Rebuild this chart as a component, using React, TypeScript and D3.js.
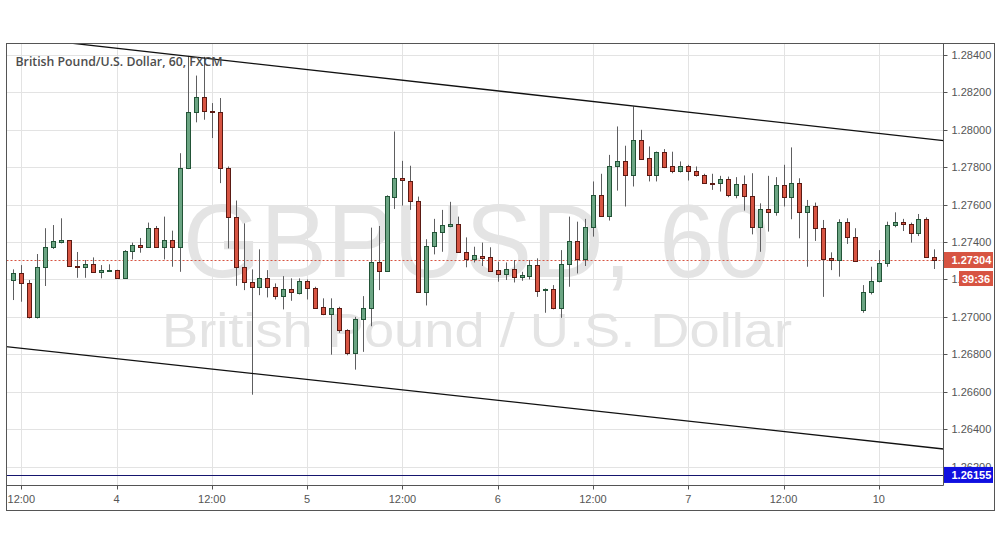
import React from "react";
import * as d3 from "d3";

// ---- data (hourly GBP/USD candles, FXCM) ----
const startIndex = -1; // first bar sits one hour before the "12:00" tick
const opens = [
  1.27197, 1.27232, 1.27179, 1.26997, 1.27265, 1.27372, 1.27402, 1.27409, 1.2727, 1.27268,
  1.27281, 1.27238, 1.27249, 1.2725, 1.27206, 1.27352, 1.27383, 1.27375, 1.27474, 1.27375,
  1.27409, 1.27375, 1.27795, 1.28095, 1.28175, 1.28101, 1.28095, 1.27795, 1.27532, 1.27265,
  1.27184, 1.27161, 1.27206, 1.27161, 1.27113, 1.27147, 1.27129, 1.27191, 1.27157, 1.27054,
  1.27013, 1.2705, 1.26932, 1.26807, 1.26991, 1.2705, 1.27291, 1.27247, 1.27643, 1.27741,
  1.27729, 1.27622, 1.27134, 1.27381, 1.27456, 1.27488, 1.27495, 1.27348, 1.27309, 1.27327,
  1.27318, 1.2725, 1.27227, 1.27254, 1.27215, 1.2722, 1.27277, 1.27145, 1.27147, 1.27045,
  1.27281, 1.27406, 1.27309, 1.27479, 1.27652, 1.27541, 1.27804, 1.27834, 1.27756, 1.27947,
  1.27849, 1.27756, 1.27881, 1.27804, 1.27782, 1.27807, 1.27782, 1.27756, 1.27715, 1.27715,
  1.27736, 1.27649, 1.27709, 1.27647, 1.27482, 1.27575, 1.27559, 1.27706, 1.2764, 1.27715,
  1.27563, 1.27593, 1.27474, 1.27313, 1.27304, 1.27509, 1.27425, 1.27036, 1.27131, 1.27191,
  1.27286, 1.27491, 1.27506, 1.27497, 1.27447, 1.27522, 1.27318,
];
const highs = [
  1.27254, 1.27277, 1.27197, 1.27336, 1.27474, 1.27491, 1.27527, 1.27411, 1.27347, 1.27304,
  1.27318, 1.27277, 1.27281, 1.27252, 1.27357, 1.27397, 1.27422, 1.27504, 1.27486, 1.27536,
  1.27461, 1.27875, 1.28395, 1.2829, 1.2839, 1.28143, 1.2817, 1.27804, 1.27622, 1.275,
  1.27254, 1.27361, 1.2725, 1.27179, 1.27218, 1.27206, 1.27206, 1.272, 1.27161, 1.27099,
  1.27099, 1.27054, 1.26934, 1.27, 1.27111, 1.27477, 1.27486, 1.2765, 1.27991, 1.27834,
  1.27808, 1.27643, 1.27415, 1.27524, 1.27572, 1.27615, 1.27536, 1.27425, 1.27375, 1.27397,
  1.27372, 1.27295, 1.27291, 1.27304, 1.27241, 1.27304, 1.27313, 1.27152, 1.2717, 1.27357,
  1.27536, 1.27509, 1.27524, 1.27724, 1.27765, 1.27866, 1.28018, 1.27915, 1.28125, 1.28,
  1.27911, 1.27884, 1.27897, 1.27883, 1.27831, 1.27813, 1.27804, 1.27765, 1.27765, 1.27754,
  1.2775, 1.27747, 1.27756, 1.27768, 1.27607, 1.27754, 1.27747, 1.27813, 1.27906, 1.27741,
  1.27625, 1.27611, 1.27518, 1.27345, 1.27522, 1.27527, 1.27474, 1.2717, 1.27268, 1.27357,
  1.27509, 1.27559, 1.27524, 1.27504, 1.2755, 1.27532, 1.27361,
];
const lows = [
  1.2709, 1.27081, 1.26991, 1.26991, 1.27165, 1.27363, 1.27393, 1.27268, 1.27209, 1.27209,
  1.27236, 1.27206, 1.27241, 1.27204, 1.27204, 1.27307, 1.27343, 1.27372, 1.27372, 1.27307,
  1.27268, 1.27241, 1.2779, 1.2804, 1.28054, 1.27956, 1.27715, 1.27366, 1.27166, 1.27143,
  1.26584, 1.27116, 1.27104, 1.27093, 1.2704, 1.27086, 1.2712, 1.27093, 1.27043, 1.27009,
  1.26798, 1.26915, 1.26795, 1.26718, 1.26813, 1.2695, 1.27143, 1.27241, 1.27577, 1.27595,
  1.27572, 1.27131, 1.27061, 1.27334, 1.27348, 1.27479, 1.27347, 1.27265, 1.27291, 1.27272,
  1.27243, 1.27188, 1.27197, 1.27184, 1.27193, 1.272, 1.27107, 1.27022, 1.2704, 1.26995,
  1.27161, 1.27232, 1.27272, 1.27429, 1.27539, 1.27515, 1.27675, 1.2759, 1.27697, 1.27843,
  1.27724, 1.27724, 1.27795, 1.27768, 1.27772, 1.27729, 1.2775, 1.27711, 1.27679, 1.2767,
  1.2764, 1.27634, 1.27568, 1.27441, 1.27348, 1.27456, 1.27541, 1.2759, 1.27522, 1.2742,
  1.27268, 1.27406, 1.27107, 1.2725, 1.27215, 1.2739, 1.27295, 1.27022, 1.2712, 1.27184,
  1.27268, 1.27479, 1.27459, 1.27397, 1.27432, 1.27316, 1.27256,
];
const closes = [
  1.27232, 1.27179, 1.26997, 1.27265, 1.27372, 1.27404, 1.27409, 1.2727, 1.27268, 1.27281,
  1.27238, 1.27249, 1.2725, 1.27206, 1.27352, 1.27383, 1.27375, 1.27474, 1.27375, 1.27409,
  1.27375, 1.27795, 1.28095, 1.28175, 1.28099, 1.28097, 1.27795, 1.27532, 1.27265, 1.27184,
  1.27161, 1.27206, 1.27161, 1.27113, 1.27147, 1.27131, 1.27191, 1.27157, 1.2705, 1.27013,
  1.2705, 1.26932, 1.26807, 1.26991, 1.2705, 1.27291, 1.27247, 1.27647, 1.27741, 1.27732,
  1.27622, 1.27134, 1.27381, 1.27456, 1.27491, 1.27497, 1.27348, 1.27307, 1.27329, 1.27316,
  1.27247, 1.27227, 1.27254, 1.27215, 1.27224, 1.27277, 1.2714, 1.2715, 1.27045, 1.27281,
  1.27406, 1.27309, 1.27479, 1.27652, 1.27541, 1.27807, 1.27834, 1.27756, 1.27947, 1.27845,
  1.27756, 1.27881, 1.278, 1.27782, 1.27807, 1.27782, 1.27756, 1.27715, 1.27714, 1.27736,
  1.27649, 1.27709, 1.27647, 1.27482, 1.27575, 1.27559, 1.27706, 1.2764, 1.27715, 1.27563,
  1.27593, 1.27474, 1.27309, 1.27304, 1.27509, 1.27425, 1.27299, 1.27131, 1.27191, 1.27286,
  1.27491, 1.27506, 1.27495, 1.27447, 1.27522, 1.27318, 1.27304,
];

const xTickIndex = [0, 12, 24, 36, 48, 60, 72, 84, 96, 108];
const xTickLabels = ["12:00", "4", "12:00", "5", "12:00", "6", "12:00", "7", "12:00", "10"];
const yTicks = [1.262, 1.264, 1.266, 1.268, 1.27, 1.272, 1.274, 1.276, 1.278, 1.28, 1.282, 1.284];

const upperChannel = [
  { idx: 6.35, price: 1.28463 },
  { idx: 116.1, price: 1.27942 },
];
const lowerChannel = [
  { idx: -1.84, price: 1.26841 },
  { idx: 116.1, price: 1.26294 },
];
const supportLevel = 1.26155;
const lastPrice = 1.27304;
const countdown = "39:36";
const title = "British Pound/U.S. Dollar, 60, FXCM";
const watermark1 = "GBPUSD, 60";
const watermark2 = "British Pound / U.S. Dollar";

// ---- styling ----
const UP = "#6ba583";
const UP_BORDER = "#225437";
const DOWN = "#d75442";
const DOWN_BORDER = "#5b1a13";
const WICK = "#5e5e60";
const AXIS_TXT = "#555555";
const FONT = "'Liberation Sans', Arial, sans-serif";

const W = 1002;
const H = 547;
const plot = { left: 6.5, right: 943.5, top: 43.5, bottom: 485.5 };

export default function App() {
  const x = d3.scaleLinear().domain([0, 108]).range([21.3, 878.8]);
  const y = d3.scaleLinear().domain([1.266, 1.284]).range([391.7, 55]);

  const bars = opens.map((o, k) => ({
    idx: startIndex + k,
    o,
    h: highs[k],
    l: lows[k],
    c: closes[k],
  }));

  const lineFor = (pts: { idx: number; price: number }[]) => {
    const [a, b] = pts;
    const fx = d3.scaleLinear().domain([x(a.idx), x(b.idx)]).range([y(a.price), y(b.price)]);
    return { x1: plot.left - 20, y1: fx(plot.left - 20), x2: plot.right, y2: fx(plot.right) };
  };
  const up = lineFor(upperChannel);
  const lo = lineFor(lowerChannel);

  const fmt = d3.format(".5f");
  const yLast = y(lastPrice);
  const ySup = y(supportLevel);

  return (
    <div style={{ position: "absolute", left: 0, top: 0, width: W, height: H, background: "#fff" }}>
      <svg width={W} height={H} style={{ display: "block" }} fontFamily={FONT}>
        <defs>
          <clipPath id="plotClip">
            <rect x={plot.left} y={plot.top} width={plot.right - plot.left} height={plot.bottom - plot.top} />
          </clipPath>
        </defs>
        <rect x={0} y={0} width={W} height={H} fill="#fff" />

        {/* grid */}
        <g clipPath="url(#plotClip)" stroke="#e3e3e3" strokeWidth={1}>
          {yTicks.map((v) => (
            <line key={"gy" + v} x1={plot.left} x2={plot.right} y1={Math.round(y(v)) + 0.5} y2={Math.round(y(v)) + 0.5} />
          ))}
          {xTickIndex.map((i) => (
            <line key={"gx" + i} x1={Math.round(x(i)) + 0.5} x2={Math.round(x(i)) + 0.5} y1={plot.top} y2={plot.bottom} />
          ))}
        </g>

        {/* watermark */}
        <g fill="#e4e4e4" fontFamily={FONT}>
          <text x={183} y={277} fontSize={104} textLength={587} lengthAdjust="spacingAndGlyphs">
            {watermark1}
          </text>
          <text x={162} y={347} fontSize={48} textLength={630} lengthAdjust="spacingAndGlyphs">
            {watermark2}
          </text>
        </g>

        <g clipPath="url(#plotClip)">
          {/* last price dotted line */}
          <line x1={plot.left} x2={plot.right} y1={Math.round(yLast) + 0.5} y2={Math.round(yLast) + 0.5} stroke={DOWN} strokeDasharray="2,2" strokeWidth={1} />
          {/* support line */}
          <line x1={plot.left} x2={plot.right} y1={Math.round(ySup) + 0.5} y2={Math.round(ySup) + 0.5} stroke="#15156e" strokeWidth={1.2} />

          {/* candles */}
          {bars.map((b) => {
            const cx = Math.round(x(b.idx)) + 0.5;
            const isUp = b.c >= b.o;
            const top = Math.round(y(Math.max(b.o, b.c)));
            const bot = Math.round(y(Math.min(b.o, b.c)));
            const hgt = Math.max(1, bot - top);
            return (
              <g key={b.idx}>
                <line x1={cx} x2={cx} y1={y(b.h)} y2={y(b.l)} stroke={WICK} strokeWidth={1} />
                <rect
                  x={cx - 2}
                  y={top + 0.5}
                  width={4}
                  height={hgt}
                  fill={isUp ? UP : DOWN}
                  stroke={isUp ? UP_BORDER : DOWN_BORDER}
                  strokeWidth={1}
                />
              </g>
            );
          })}

          {/* channel lines */}
          <line {...up} stroke="#111" strokeWidth={1.3} />
          <line {...lo} stroke="#111" strokeWidth={1.3} />
        </g>

        {/* title */}
        <text x={15.5} y={66} fontSize={13} fontWeight={600} fill="#4d4d4d" fontFamily="'Open Sans', 'DejaVu Sans', sans-serif" textLength={207} lengthAdjust="spacingAndGlyphs">
          {title}
        </text>

        {/* axes */}
        <line x1={plot.right} x2={plot.right} y1={plot.top} y2={plot.bottom} stroke="#555" strokeWidth={1} />
        <line x1={plot.left} x2={plot.right} y1={plot.bottom} y2={plot.bottom} stroke="#555" strokeWidth={1} />
        <rect x={6.5} y={43.5} width={988} height={467} fill="none" stroke="#555" strokeWidth={1} />

        {/* y ticks and labels */}
        {yTicks.map((v) => (
          <g key={"yt" + v}>
            <line x1={plot.right} x2={plot.right + 4} y1={Math.round(y(v)) + 0.5} y2={Math.round(y(v)) + 0.5} stroke="#555" />
            <text x={951.5} y={y(v) + 4} fontSize={11} fill={AXIS_TXT}>
              {fmt(v)}
            </text>
          </g>
        ))}

        {/* x ticks and labels */}
        {xTickIndex.map((i, k) => (
          <g key={"xt" + i}>
            <line x1={Math.round(x(i)) + 0.5} x2={Math.round(x(i)) + 0.5} y1={plot.bottom} y2={plot.bottom + 4} stroke="#555" />
            <text x={x(i)} y={503} fontSize={11} fill={AXIS_TXT} textAnchor="middle">
              {xTickLabels[k]}
            </text>
          </g>
        ))}

        {/* last price label */}
        <rect x={944} y={yLast - 8} width={49} height={16} fill={DOWN} />
        <text x={951.5} y={yLast + 4} fontSize={11} fontWeight="bold" fill="#fff">
          {fmt(lastPrice)}
        </text>
        <rect x={959} y={yLast + 11} width={34} height={15} fill={DOWN} />
        <text x={976} y={yLast + 22.5} fontSize={11} fontWeight="bold" fill="#fff" textAnchor="middle">
          {countdown}
        </text>

        {/* support label */}
        <rect x={944} y={ySup - 8} width={49} height={16} fill="#1010e0" />
        <text x={951.5} y={ySup + 4} fontSize={11} fontWeight="bold" fill="#fff">
          {fmt(supportLevel)}
        </text>
      </svg>
    </div>
  );
}
